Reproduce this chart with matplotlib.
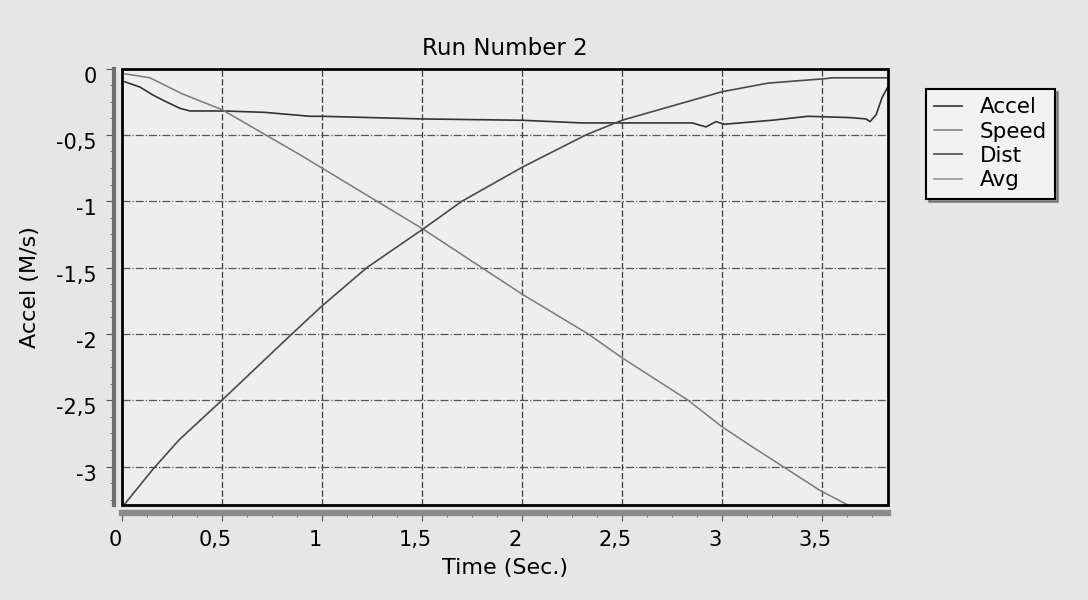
import numpy as np
import matplotlib
matplotlib.use("Agg")
from matplotlib import pyplot as plt
import matplotlib.transforms as mtransforms
from matplotlib.ticker import MultipleLocator, FuncFormatter
from matplotlib.patches import Rectangle

# values
accel_t = [0.015, 0.09, 0.155, 0.22, 0.29, 0.34, 0.51, 0.71, 0.94, 1.0, 1.5, 2.0,
           2.3, 2.5, 2.85, 2.92, 2.97, 3.01, 3.25, 3.43, 3.64, 3.72, 3.74, 3.77, 3.80, 3.85]
accel_v = [-0.10, -0.14, -0.20, -0.25, -0.30, -0.32, -0.32, -0.33, -0.36, -0.36, -0.38, -0.39,
           -0.41, -0.41, -0.41, -0.44, -0.40, -0.42, -0.39, -0.36, -0.37, -0.38, -0.40, -0.35, -0.22, -0.08]

speed_t = [0.015, 0.14, 0.30, 0.50, 0.89, 1.0, 1.505, 2.0, 2.33, 2.5, 2.83, 3.0, 3.14, 3.49, 3.68]
speed_v = [-0.04, -0.07, -0.19, -0.31, -0.65, -0.75, -1.21, -1.70, -2.0, -2.18, -2.50, -2.70, -2.84, -3.18, -3.33]

dist_t = [0.015, 0.155, 0.285, 0.5, 0.85, 1.0, 1.225, 1.505, 1.70, 2.0, 2.32, 2.5, 3.0, 3.23, 3.52, 3.55, 3.85]
dist_v = [-3.28, -3.02, -2.80, -2.50, -2.00, -1.79, -1.50, -1.21, -1.00, -0.745, -0.50, -0.39, -0.175, -0.11, -0.076, -0.07, -0.07]

avg_t = []
avg_v = []

fig = plt.figure(figsize=(10.88, 6), dpi=100, facecolor="#e6e6e6")
ax = fig.add_axes([0.1121, 0.1583, 0.7041, 0.7275], facecolor="#eeeeee")

ax.plot(accel_t, accel_v, color="#333333", lw=1.2, label="Accel")
ax.plot(speed_t, speed_v, color="#7a7a7a", lw=1.1, label="Speed")
ax.plot(dist_t, dist_v, color="#4a4a4a", lw=1.2, label="Dist")
ax.plot(avg_t, avg_v, color="#8a8a8a", lw=1.1, label="Avg")

ax.set_xlim(0, 3.83)
ax.set_ylim(-3.29, 0)
ax.xaxis.set_major_locator(MultipleLocator(0.5))
ax.xaxis.set_minor_locator(MultipleLocator(0.125))
ax.yaxis.set_major_locator(MultipleLocator(0.5))
ax.yaxis.set_minor_locator(MultipleLocator(0.125))
fmt = FuncFormatter(lambda v, p: ("%g" % v).replace(".", ","))
ax.xaxis.set_major_formatter(fmt)
ax.yaxis.set_major_formatter(fmt)

ax.xaxis.grid(True, linestyle=(0, (5, 2)), color="#3c3c3c", lw=0.9)
ax.yaxis.grid(True, linestyle="-.", color="#555555", lw=0.9)

# back plane frame
ax.add_patch(Rectangle((0, 0), 1, 1, transform=ax.transAxes, fill=False,
                       edgecolor="black", lw=2, zorder=5, clip_on=False))
# front "3d" walls as offset spines
for s in ["top", "right"]:
    ax.spines[s].set_visible(False)
ax.spines["left"].set_position(("outward", 6))
ax.spines["bottom"].set_position(("outward", 6))
ax.spines["left"].set_color("#6e6e6e")
ax.spines["bottom"].set_color("#8a8a8a")
ax.spines["left"].set_linewidth(3)
ax.spines["bottom"].set_linewidth(4.5)

ax.tick_params(which="both", direction="out", color="#555555")
ax.tick_params(which="major", length=6, labelsize=15, pad=6)
ax.tick_params(which="minor", length=3)

off_x = mtransforms.ScaledTranslation(-0.07, 0, fig.dpi_scale_trans)
off_y = mtransforms.ScaledTranslation(0, -0.06, fig.dpi_scale_trans)
for lbl in ax.get_xticklabels():
    lbl.set_transform(lbl.get_transform() + off_x)
for lbl in ax.get_yticklabels():
    lbl.set_transform(lbl.get_transform() + off_y)

ax.set_title("Run Number 2", fontsize=16.5, pad=10)
ax.set_xlabel("Time (Sec.)", fontsize=16, labelpad=6)
ax.set_ylabel("Accel (M/s)", fontsize=16, labelpad=12)

leg = fig.legend(loc="upper left", bbox_to_anchor=(915 / 1088, 1 - 78 / 600),
                 fontsize=15.5, frameon=True, fancybox=False, shadow=True,
                 edgecolor="black", facecolor="#f2f2f2", handlelength=1.3,
                 handletextpad=0.8, labelspacing=0.2, borderpad=0.4)
leg.get_frame().set_linewidth(1.5)

fig.savefig("out.png", dpi=100, facecolor=fig.get_facecolor())
